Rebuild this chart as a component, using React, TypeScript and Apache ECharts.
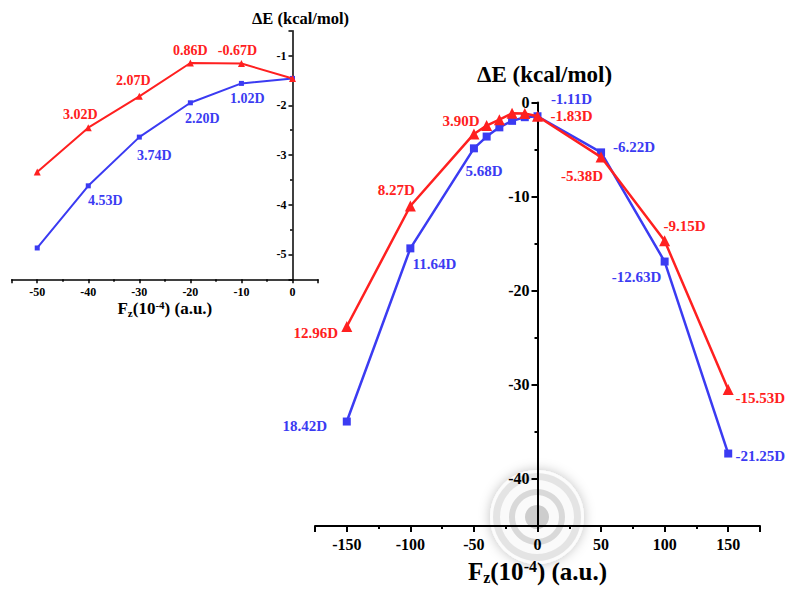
import React, { useEffect, useRef } from "react";
import * as echarts from "echarts";

// ---- data ----
const fieldValues = [-150, -100, -50, -40, -30, -20, -10, 0, 50, 100, 150];
const blueEnergy = [-33.9, -15.5, -4.87, -3.62, -2.64, -1.95, -1.56, -1.46, -5.3, -16.9, -37.3];
const redEnergy = [-23.8, -11.0, -3.34, -2.45, -1.82, -1.15, -1.16, -1.46, -5.8, -14.7, -30.5];
const blueDipoles = ["18.42D", "11.64D", "5.68D", "", "", "", "", "-1.11D", "-6.22D", "-12.63D", "-21.25D"];
const redDipoles = ["12.96D", "8.27D", "3.90D", "", "", "", "", "-1.83D", "-5.38D", "-9.15D", "-15.53D"];

// inset: field values -50 .. 0 (indices 2..7 of the main arrays)
const insetStart = 2;
const insetEnd = 8;
const insetBlueDipoles = ["", "4.53D", "3.74D", "2.20D", "1.02D", ""];
const insetRedDipoles = ["", "3.02D", "2.07D", "0.86D", "-0.67D", ""];

// ---- label layout (pixel offsets from the marker) ----
const blueOffsets: number[][] = [[-42, 4], [24, 16], [10, 23], [0, 0], [0, 0], [0, 0], [0, 0], [34, -17], [33, -5], [-28, 15], [32, 2]];
const redOffsets: number[][] = [[-31, 7], [-14, -16], [-13, -13], [0, 0], [0, 0], [0, 0], [0, 0], [34, 0], [-19, 19], [20, -15], [32, 8]];
const insetBlueOffsets: number[][] = [[0, 0], [17, 15], [15, 18], [12, 16], [6, 15], [0, 0]];
const insetRedOffsets: number[][] = [[0, 0], [-8, -13], [-6, -16], [0, -13], [-4, -13], [0, 0]];

const RED = "#ff2020";
const BLUE = "#3b3bf2";
const FONT = "'Liberation Serif', 'Times New Roman', serif";

// grid geometry
const MAIN = { left: 315, top: 102.5, width: 445, height: 431.5, xMin: -175, xMax: 175 };
const INSET = { left: 11.7, top: 30.7, width: 306.3, height: 248.6, xMin: -55, xMax: 5 };
const zeroOffset = (g: typeof MAIN) => -((0 - g.xMin) / (g.xMax - g.xMin)) * g.width;

function buildData(xs: number[], ys: number[], labels: string[], offsets: number[][], fontSize: number, color: string) {
  return xs.map((x, i) => ({
    value: [x, ys[i]],
    label: labels[i]
      ? {
          show: true,
          formatter: labels[i],
          position: "inside",
          offset: offsets[i],
          color,
          fontSize,
          fontWeight: "bold",
          fontFamily: FONT,
          align: "center",
          verticalAlign: "middle",
        }
      : { show: false },
  }));
}

const nameRich = (base: number) => ({
  b: { fontSize: base, fontWeight: "bold", fontFamily: FONT, color: "#000" },
  sub: { fontSize: Math.round(base * 0.62), fontWeight: "bold", fontFamily: FONT, color: "#000", padding: [Math.round(base * 0.45), 0, 0, 0] },
  sup: { fontSize: Math.round(base * 0.62), fontWeight: "bold", fontFamily: FONT, color: "#000", padding: [0, 0, Math.round(base * 0.45), 0] },
});

export default function App() {
  const ref = useRef<HTMLDivElement>(null);
  useEffect(() => {
    if (!ref.current) return;
    const chart = echarts.init(ref.current, null, { renderer: "svg" });

    const insetX = fieldValues.slice(insetStart, insetEnd);
    const insetBlue = blueEnergy.slice(insetStart, insetEnd);
    const insetRed = redEnergy.slice(insetStart, insetEnd);

    const axisLabelBase = { fontWeight: "bold", fontFamily: FONT, color: "#000" };

    chart.setOption({
      animation: false,
      backgroundColor: "#fff",
      grid: [
        { left: MAIN.left, top: MAIN.top, width: MAIN.width, height: MAIN.height },
        { left: INSET.left, top: INSET.top, width: INSET.width, height: INSET.height },
      ],
      xAxis: [
        {
          type: "value",
          gridIndex: 0,
          min: MAIN.xMin,
          max: MAIN.xMax,
          splitNumber: 7,
          axisLine: { onZero: false, lineStyle: { color: "#000", width: 2 } },
          axisTick: { length: 6, lineStyle: { color: "#000", width: 2 } },
          minorTick: { show: true, splitNumber: 2, length: 3, lineStyle: { color: "#000", width: 2 } },
          splitLine: { show: false },
          axisLabel: { ...axisLabelBase, fontSize: 16, margin: 10, showMinLabel: false, showMaxLabel: false },
          name: "{b|F}{sub|z}{b|(10}{sup|-4}{b|) (a.u.)}",
          nameLocation: "middle",
          nameGap: 32,
          nameTextStyle: { rich: nameRich(25) },
        },
        {
          type: "value",
          gridIndex: 1,
          min: INSET.xMin,
          max: INSET.xMax,
          splitNumber: 6,
          axisLine: { onZero: false, lineStyle: { color: "#000", width: 1.5 } },
          axisTick: { length: 4, lineStyle: { color: "#000", width: 1.5 } },
          minorTick: { show: true, splitNumber: 2, length: 2.5, lineStyle: { color: "#000", width: 1.5 } },
          splitLine: { show: false },
          axisLabel: { ...axisLabelBase, fontSize: 12, margin: 7, showMinLabel: false, showMaxLabel: false },
          name: "{b|F}{sub|z}{b|(10}{sup|-4}{b|) (a.u.)}",
          nameLocation: "middle",
          nameGap: 20,
          nameTextStyle: { rich: nameRich(17) },
        },
      ],
      yAxis: [
        {
          type: "value",
          gridIndex: 0,
          min: -45,
          max: 0,
          splitNumber: 5,
          position: "left",
          offset: zeroOffset(MAIN),
          axisLine: { onZero: false, lineStyle: { color: "#000", width: 2 } },
          axisTick: { length: 6, lineStyle: { color: "#000", width: 2 } },
          minorTick: { show: true, splitNumber: 2, length: 3, lineStyle: { color: "#000", width: 2 } },
          splitLine: { show: false },
          axisLabel: { ...axisLabelBase, fontSize: 16, margin: 8, showMinLabel: false },
        },
        {
          type: "value",
          gridIndex: 1,
          min: -5.5,
          max: -0.5,
          splitNumber: 5,
          position: "left",
          offset: zeroOffset(INSET),
          axisLine: { onZero: false, lineStyle: { color: "#000", width: 1.5 } },
          axisTick: { length: 4, lineStyle: { color: "#000", width: 1.5 } },
          minorTick: { show: true, splitNumber: 2, length: 2.5, lineStyle: { color: "#000", width: 1.5 } },
          splitLine: { show: false },
          axisLabel: { ...axisLabelBase, fontSize: 12, margin: 6, showMinLabel: false, showMaxLabel: false },
        },
      ],
      series: [
        {
          type: "line",
          xAxisIndex: 0,
          yAxisIndex: 0,
          data: buildData(fieldValues, blueEnergy, blueDipoles, blueOffsets, 15, BLUE),
          symbol: "rect",
          symbolSize: 8,
          lineStyle: { color: BLUE, width: 2.5 },
          itemStyle: { color: BLUE },
          z: 2,
        },
        {
          type: "line",
          xAxisIndex: 0,
          yAxisIndex: 0,
          data: buildData(fieldValues, redEnergy, redDipoles, redOffsets, 15, RED),
          symbol: "triangle",
          symbolSize: 11,
          lineStyle: { color: RED, width: 2.5 },
          itemStyle: { color: RED },
          z: 3,
        },
        {
          type: "line",
          xAxisIndex: 1,
          yAxisIndex: 1,
          data: buildData(insetX, insetBlue, insetBlueDipoles, insetBlueOffsets, 14, BLUE),
          symbol: "rect",
          symbolSize: 5,
          lineStyle: { color: BLUE, width: 2 },
          itemStyle: { color: BLUE },
          z: 2,
        },
        {
          type: "line",
          xAxisIndex: 1,
          yAxisIndex: 1,
          data: buildData(insetX, insetRed, insetRedDipoles, insetRedOffsets, 14, RED),
          symbol: "triangle",
          symbolSize: 7,
          lineStyle: { color: RED, width: 2 },
          itemStyle: { color: RED },
          z: 3,
        },
      ],
      graphic: [
        {
          type: "text",
          left: 477,
          top: 63,
          style: { text: "ΔE (kcal/mol)", fontSize: 23, fontWeight: "bold", fontFamily: FONT, fill: "#000" },
        },
        {
          type: "text",
          left: 252,
          top: 10,
          style: { text: "ΔE (kcal/mol)", fontSize: 16.5, fontWeight: "bold", fontFamily: FONT, fill: "#000" },
        },
        {
          type: "group",
          left: 490,
          top: 470,
          z: 100,
          children: [
            { type: "circle", shape: { cx: 48, cy: 48, r: 47 }, style: { fill: "rgba(255,255,255,0.8)", shadowBlur: 12, shadowColor: "rgba(0,0,0,0.3)" } },
            { type: "ring", shape: { cx: 48, cy: 48, r: 44, r0: 37 }, style: { fill: "rgba(210,210,210,0.55)" } },
            { type: "ring", shape: { cx: 48, cy: 48, r: 28, r0: 22 }, style: { fill: "rgba(195,195,195,0.6)" } },
            { type: "circle", shape: { cx: 48, cy: 48, r: 12 }, style: { fill: "rgba(160,160,160,0.5)" } },
          ],
        },
      ],
    });
    return () => chart.dispose();
  }, []);
  return <div ref={ref} style={{ width: 788, height: 590, position: "absolute", left: 0, top: 0 }} />;
}
